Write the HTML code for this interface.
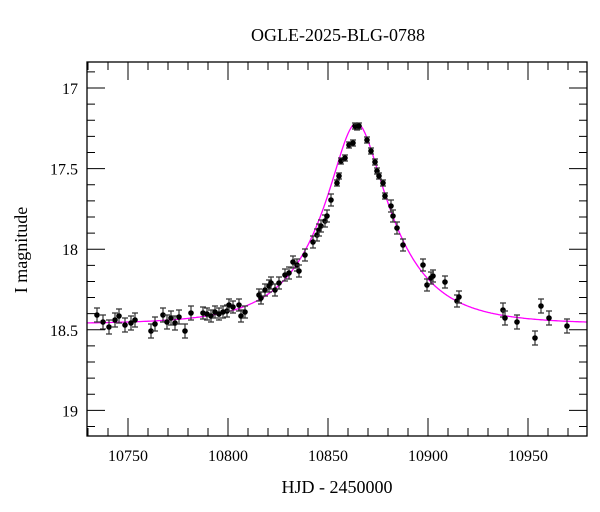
<!DOCTYPE html><html><head><style>body{margin:0;background:#fff}svg{display:block}text{font-family:"Liberation Serif",serif;fill:#000}</style></head><body>
<svg id="s" width="600" height="512" xmlns="http://www.w3.org/2000/svg">
<text x="338" y="41" font-size="18" text-anchor="middle">OGLE-2025-BLG-0788</text>
<text x="337" y="493" font-size="18" text-anchor="middle">HJD - 2450000</text>
<text transform="translate(27,250) rotate(-90)" font-size="18" text-anchor="middle">I magnitude</text>
<g id="g"></g>
</svg>
<script>
var g=document.getElementById('g'),h='';
function X(d){return 128+2*(d-10750)}function Y(m){return 88+161.2*(m-17)}
var L=87,R=587,T=62,B=436;
// curve
var p='';for(var t=10729.5;t<=10979.5;t+=0.5){var u0=0.33,tE=35,t0=10864.3,tau=(t-t0)/tE,u=Math.sqrt(u0*u0+tau*tau),A=(u*u+2)/(u*Math.sqrt(u*u+4)),m=18.465-2.5*Math.log10(A);p+=(p?'L':'M')+X(t).toFixed(1)+' '+Y(m).toFixed(1)}
h+='<path d="'+p+'" fill="none" stroke="#f0f" stroke-width="1.3"/>';
var pts=[[97,315],[103,322],[109,327],[115,320],[119,316],[125,325],[131,323],[135,320],[151,331],[155,324],[163,315],[167,322],[171,318],[175,323],[179,317],[185,331],[191,313],[203,313],[207,314],[211,316],[215,312],[219,314],[223,312],[227,311],[229,305],[233,307],[239,305],[241,316],[245,312],[259,295],[261,298],[265,290],[269,286],[271,283],[275,290],[279,283],[285,275],[289,273],[293,262],[297,265],[299,271],[305,255],[313,242],[317,235],[319,230],[321,226],[325,221],[327,216],[331,200],[337,183],[339,176],[341,161],[345,158],[349,145],[353,143],[355,126],[357,127],[359,126],[367,140],[371,151],[375,162],[377,171],[379,176],[383,183],[385,196],[391,206],[393,216],[397,228],[403,245],[423,265],[427,285],[431,278],[433,276],[445,282],[457,301],[459,297],[503,310],[505,318],[517,322],[535,338],[541,306],[549,318],[567,326]];
pts.forEach(function(q){var x=q[0],y=q[1],e=q[1]<200?3:(q[0]>500||q[0]<200?7:6);h+='<path d="M'+x+' '+(y-e)+'V'+(y+e)+'M'+(x-3)+' '+(y-e)+'h6M'+(x-3)+' '+(y+e)+'h6" stroke="#333" stroke-width="1.2"/><circle cx="'+x+'" cy="'+y+'" r="2.8" fill="#000"/>'});
// axes
h+='<rect x="'+L+'" y="'+T+'" width="'+(R-L)+'" height="'+(B-T)+'" fill="none" stroke="#000" stroke-width="1.3"/>';
for(var d=10730;d<=10970;d+=10){var x=X(d),big=d%50==0,l=big?18:8;h+='<path d="M'+x+' '+B+'v-'+l+'M'+x+' '+T+'v'+l+'" stroke="#000" stroke-width="1"/>';if(big)h+='<text x="'+x+'" y="461" font-size="16" text-anchor="middle">'+d+'</text>'}
for(var i=169;i<=191;i++){var m=i/10,y=Y(m),big=i%5==0,l=big?18:8;h+='<path d="M'+L+' '+y+'h'+l+'M'+R+' '+y+'h-'+l+'" stroke="#000" stroke-width="1"/>';if(big)h+='<text x="78" y="'+(y+6)+'" font-size="16" text-anchor="end">'+(i%10==0?(i/10):m.toFixed(1))+'</text>'}
g.innerHTML=h;
</script></body></html>
